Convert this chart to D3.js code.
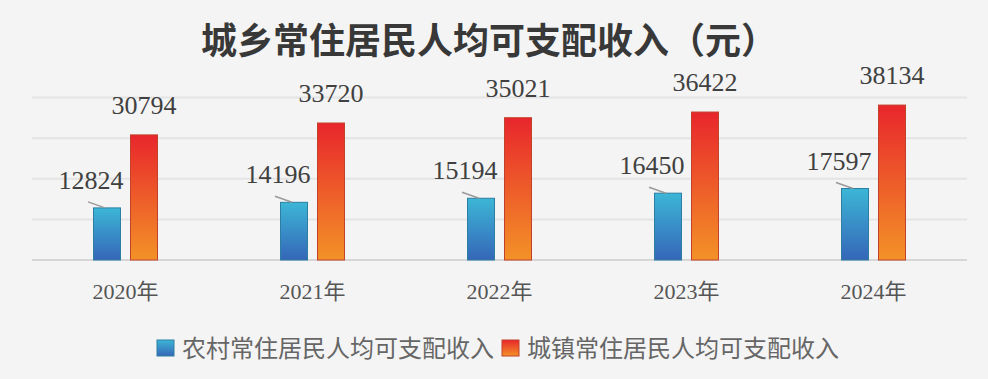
<!DOCTYPE html>
<html lang='zh'>
	<head>
		<meta charset='utf-8'>
		<title>城乡常住居民人均可支配收入</title>
		<script type='text/javascript' src='https://cdn.jsdelivr.net/npm/d3@7'></script>
		<style>
			body { margin: 0; background: #f4f4f4; }
		</style>
	</head>
	<body>
		<script type='text/javascript'>
			var years = ['2020年', '2021年', '2022年', '2023年', '2024年'];
			var series_names = ['农村常住居民人均可支配收入', '城镇常住居民人均可支配收入'];
			var rural_values = [12824, 14196, 15194, 16450, 17597];
			var urban_values = [30794, 33720, 35021, 36422, 38134];
			var y_ticks = [0, 10000, 20000, 30000, 40000];

			{
				var width = 988, height = 379;
				var svg_elem = d3.select('body').append('svg').attr('width', width).attr('height', height)

				var defs = svg_elem.append('defs')
				var grad_blue = defs.append('linearGradient').attr('id', 'g_blue').attr('x1', 0).attr('y1', 0).attr('x2', 0).attr('y2', 1)
				grad_blue.append('stop').attr('offset', '0%').attr('stop-color', '#3cb6d6')
				grad_blue.append('stop').attr('offset', '100%').attr('stop-color', '#3566b8')
				var grad_red = defs.append('linearGradient').attr('id', 'g_red').attr('x1', 0).attr('y1', 0).attr('x2', 0).attr('y2', 1)
				grad_red.append('stop').attr('offset', '0%').attr('stop-color', '#e8262c')
				grad_red.append('stop').attr('offset', '100%').attr('stop-color', '#f39227')

				var fills = ['url(#g_blue)', 'url(#g_red)'], strokes = ['#2d7ea3', '#c2412a']

				var x0 = d3.scaleBand().domain(years).range([32, 967])
				var x1 = d3.scaleBand().domain([0, 1]).range([0, 64]).paddingInner(10/37)
				var y = d3.scaleLinear().domain([0, 40000]).range([260, 97.5])

				// title
				svg_elem.append('text').attr('x', 489).attr('y', 54).attr('text-anchor', 'middle')
					.attr('font-family', '"Noto Sans CJK SC", sans-serif').attr('font-weight', 'bold')
					.attr('font-size', 36).attr('fill', '#383838').text('城乡常住居民人均可支配收入（元）')

				// grid
				svg_elem.append('g').selectAll('line').data(y_ticks).enter().append('line')
					.attr('x1', 32).attr('x2', 967)
					.attr('y1', d => y(d)).attr('y2', d => y(d))
					.attr('stroke', d => d == 0 ? '#d6d6d6' : '#e4e4e4').attr('stroke-width', 2)

				var rows = years.map((c, i) => ({cat: c, vals: [rural_values[i], urban_values[i]]}))
				var bar_x = (c, s) => x0(c) + x0.bandwidth()/2 - 32 + x1(s)

				var groups = svg_elem.append('g').selectAll('g').data(rows).enter().append('g')

				groups.selectAll('rect').data(d => d.vals.map((v, s) => ({cat: d.cat, s: s, v: v}))).enter().append('rect')
					.attr('x', d => bar_x(d.cat, d.s))
					.attr('y', d => y(d.v))
					.attr('width', x1.bandwidth())
					.attr('height', d => y(0) - y(d.v))
					.attr('fill', d => fills[d.s])
					.attr('stroke', d => strokes[d.s]).attr('stroke-width', 1)

				// urban labels
				groups.append('text')
					.attr('x', d => bar_x(d.cat, 1) + x1.bandwidth()/2)
					.attr('y', d => y(d.vals[1]) - 21)
					.attr('text-anchor', 'middle').attr('font-family', '"Liberation Serif", serif')
					.attr('font-size', 26).attr('fill', '#404040').text(d => d.vals[1])

				// rural labels with leader line
				groups.append('text')
					.attr('x', d => bar_x(d.cat, 0) + x1.bandwidth()/2 - 16)
					.attr('y', d => y(d.vals[0]) - 19)
					.attr('text-anchor', 'middle').attr('font-family', '"Liberation Serif", serif')
					.attr('font-size', 26).attr('fill', '#404040').text(d => d.vals[0])
				groups.append('line')
					.attr('x1', d => bar_x(d.cat, 0) + x1.bandwidth()/2 - 19)
					.attr('y1', d => y(d.vals[0]) - 6)
					.attr('x2', d => bar_x(d.cat, 0) + x1.bandwidth()/2 - 2)
					.attr('y2', d => y(d.vals[0]))
					.attr('stroke', '#9a9a9a').attr('stroke-width', 1.5)

				// x axis labels
				svg_elem.append('g').selectAll('text').data(years).enter().append('text')
					.attr('x', d => x0(d) + x0.bandwidth()/2)
					.attr('y', 299)
					.attr('text-anchor', 'middle').attr('font-family', '"Liberation Serif", "Noto Sans CJK SC", serif')
					.attr('font-size', 22).attr('fill', '#555').text(d => d)

				// legend
				var legend_x = [157, 502]
				var legend = svg_elem.append('g').selectAll('g').data(series_names).enter().append('g')
					.attr('transform', (d, i) => 'translate(' + legend_x[i] + ',340)')
				legend.append('rect').attr('width', 17).attr('height', 16)
					.attr('fill', (d, i) => fills[i]).attr('stroke', (d, i) => strokes[i])
				legend.append('text').attr('x', 25).attr('y', 16.5)
					.attr('font-family', '"Noto Sans CJK SC", sans-serif').attr('font-size', 24)
					.attr('fill', '#666').text(d => d)
			}
		</script>
	</body>
</html>
